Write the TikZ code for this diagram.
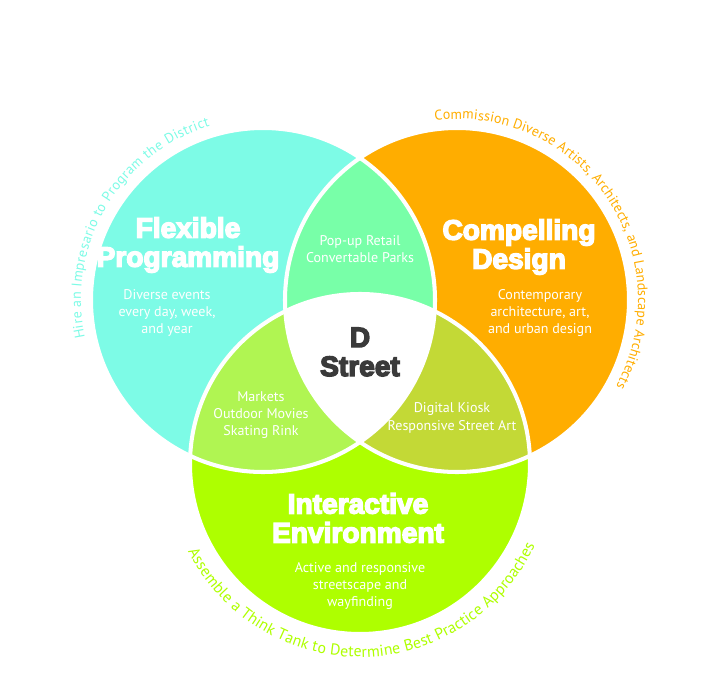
\documentclass[tikz,border=0pt]{standalone}
\usepackage{fontspec}
\setmainfont{PT Sans}
\newfontfamily\headfont{Liberation Sans Bold}
\newcommand{\heavyon}{\special{pdf:literal direct 2 Tr 0.8 w}}
\newcommand{\heavyoff}{\special{pdf:literal direct 0 Tr}}
\usetikzlibrary{decorations.text}
\definecolor{flexcyan}{HTML}{7DFBE6}
\definecolor{designorange}{HTML}{FFAD00}
\definecolor{envlime}{HTML}{AEFF00}
\definecolor{retailmint}{HTML}{78FFA8}
\definecolor{marketgreen}{HTML}{B0F552}
\definecolor{kioskolive}{HTML}{C3D936}
\definecolor{streetgray}{HTML}{3A3A3A}
\begin{document}
\begin{tikzpicture}[x=0.02cm, y=0.02cm,
    head/.style={text=white, align=center, font=\headfont\fontsize{16}{16.5}\selectfont\heavyon,
        execute at end node=\heavyoff},
    note/.style={text=white, align=center, font=\fontsize{8}{9.9}\selectfont},
    ring/.style={draw=white, line width=2.3pt}]
    \useasboundingbox (0,0) rectangle (720,677);
    \coordinate (flex) at (263,377);
    \coordinate (design) at (457,377);
    \coordinate (env) at (360,213);
    % circles
    \fill[flexcyan] (flex) circle (172);
    \fill[designorange] (design) circle (172);
    \fill[envlime] (env) circle (170);
    % overlaps
    \begin{scope}
    \clip (flex) circle (172);
    \fill[retailmint] (design) circle (172);
    \fill[marketgreen] (env) circle (170);
    \end{scope}
    \begin{scope}
    \clip (design) circle (172);
    \fill[kioskolive] (env) circle (170);
    \end{scope}
    \begin{scope}
    \clip (flex) circle (172);
    \clip (design) circle (172);
    \fill[white] (env) circle (170);
    \end{scope}
    \draw[ring] (flex) circle (172);
    \draw[ring] (design) circle (172);
    \draw[ring] (env) circle (170);
    % texts
    \node[head] (flexhead) at (188,432) {Flexible\\Programming};
    \node[note] (flexnote) at (167,364) {Diverse events\\every day, week,\\and year};
    \node[head] (designhead) at (519,430) {Compelling\\Design};
    \node[note] (designnote) at (540,364) {Contemporary\\architecture, art,\\and urban design};
    \node[head] (envhead) at (358,159) {Interactive\\Environment};
    \node[note] (envnote) at (360,91) {Active and responsive\\streetscape and\\wayfinding};
    \node[note] (retail) at (360,428) {Pop-up Retail\\Convertable Parks};
    \node[note] (market) at (261,262) {Markets\\Outdoor Movies\\Skating Rink};
    \node[note] (kiosk) at (452,259) {Digital Kiosk\\Responsive Street Art};
    \node[head, text=streetgray] (street) at (360,325) {D\\Street};
    % curved texts
    \path[decorate, decoration={text along path, text color=flexcyan, text align=fit to path,
        text={|\fontsize{8}{8}\selectfont|Hire an Impresario to Program the District}}]
        (flex) ++(192:182) arc[start angle=192, end angle=107, radius=182];
    \path[decorate, decoration={text along path, text color=designorange, text align=fit to path,
        text={|\fontsize{8}{8}\selectfont|Commission Diverse Artists, Architects, and Landscape Architects}}]
        (design) ++(97:181) arc[start angle=97, end angle=-28.5, radius=181];
    \path[decorate, decoration={text along path, text color=envlime, text align=fit to path,
        text={|\fontsize{9}{9}\selectfont|Assemble a Think Tank to Determine Best Practice Approaches}}]
        (env) ++(207:193) arc[start angle=207, end angle=335, radius=193];
\end{tikzpicture}
\end{document}
